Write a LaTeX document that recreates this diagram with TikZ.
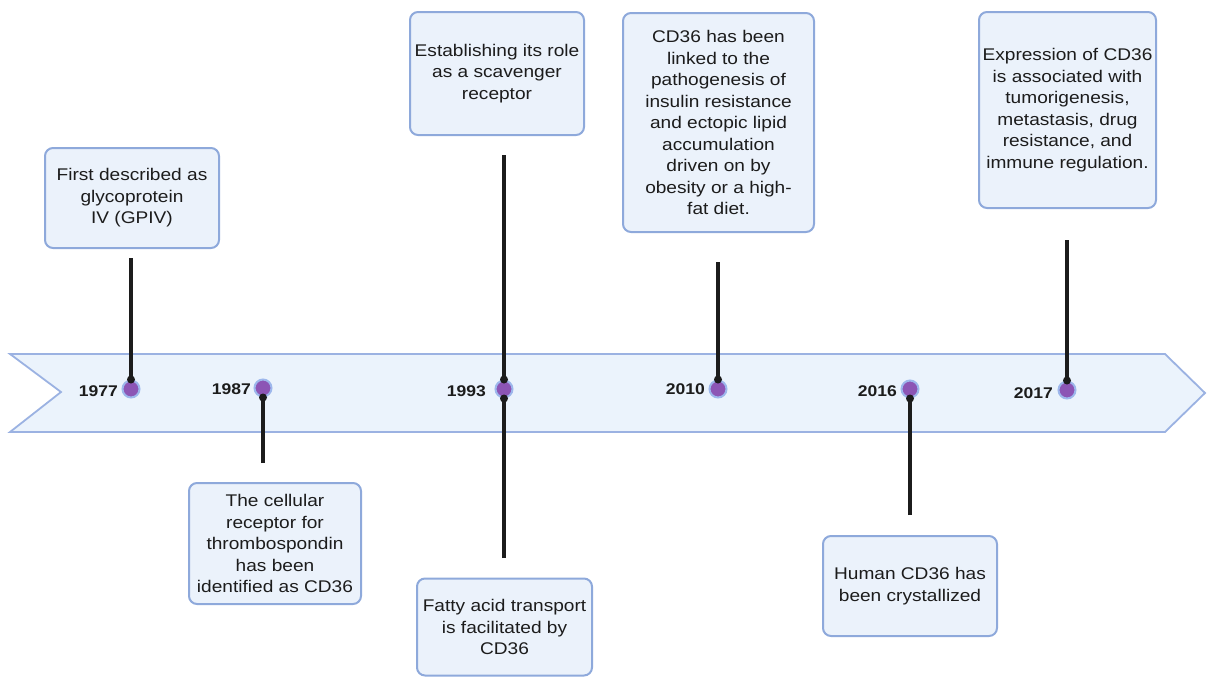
\documentclass[tikz,border=0pt]{standalone}
\usepackage{fontspec}
\setmainfont{Liberation Sans}[FakeStretch=1.13]
\definecolor{boxfill}{HTML}{EBF2FB}
\definecolor{boxdraw}{HTML}{8EA9DB}
\definecolor{ribfill}{HTML}{EBF3FC}
\definecolor{ribdraw}{HTML}{9BB2E2}
\definecolor{dotfill}{HTML}{8C55B5}
\definecolor{dotdraw}{HTML}{9DB7EC}
\definecolor{txt}{HTML}{1C1C1C}
\tikzset{
  evbox/.style={draw=boxdraw, fill=boxfill, line width=2pt, rounded corners=8pt,
    align=center, inner sep=0pt, text=txt,
    font=\fontsize{16.9}{21.5}\selectfont},
  yeardot/.style={circle, fill=dotfill, draw=dotdraw, line width=2pt,
    minimum size=17pt, inner sep=0pt},
  yearlbl/.style={anchor=east, inner sep=0pt, text=txt,
    font=\fontsize{15.5}{15.5}\selectfont\bfseries},
  conn/.style={line width=3.1pt, draw=txt},
}
\begin{document}
\begin{tikzpicture}[x=1pt,y=-1pt]
\useasboundingbox (0,0) rectangle (1207,678);
% ribbon
\draw[fill=ribfill, draw=ribdraw, line width=1.8pt, line join=miter]
  (10,354) -- (1165,354) -- (1205,393) -- (1165,432) -- (10,432) -- (61,392) -- cycle;
% dots
\node[yeardot] (c1977) at (131,389) {};
\node[yeardot] (c1987) at (263,388) {};
\node[yeardot] (c1993) at (504,389) {};
\node[yeardot] (c2010) at (718,389) {};
\node[yeardot] (c2016) at (910,389) {};
\node[yeardot] (c2017) at (1067,390) {};
% year labels
\node[yearlbl] (y1977) at (118,391) {1977};
\node[yearlbl] (y1987) at (251,389) {1987};
\node[yearlbl] (y1993) at (486,391) {1993};
\node[yearlbl] (y2010) at (705,389) {2010};
\node[yearlbl] (y2016) at (897,391) {2016};
\node[yearlbl] (y2017) at (1053,393) {2017};
% boxes
\node[evbox, minimum width=174pt, minimum height=100pt] (b1) at (132,198)
  {First described as\\glycoprotein\\IV (GPIV)};
\node[evbox, minimum width=172pt, minimum height=121pt] (b2) at (275,543.5)
  {The cellular\\receptor for\\thrombospondin\\has been\\identified as CD36};
\node[evbox, minimum width=174pt, minimum height=123pt] (b3) at (497,73.5)
  {Establishing its role\\as a scavenger\\receptor};
\node[evbox, minimum width=175pt, minimum height=97pt] (b4) at (504.5,627)
  {Fatty acid transport\\is facilitated by\\CD36};
\node[evbox, minimum width=191pt, minimum height=219pt] (b5) at (718.5,122.5)
  {CD36 has been\\linked to the\\pathogenesis of\\insulin resistance\\and ectopic lipid\\accumulation\\driven on by\\obesity or a high-\\fat diet.};
\node[evbox, minimum width=174pt, minimum height=100pt] (b6) at (910,586)
  {Human CD36 has\\been crystallized};
\node[evbox, minimum width=177pt, minimum height=196pt] (b7) at (1067.5,110)
  {Expression of CD36\\is associated with\\tumorigenesis,\\metastasis, drug\\resistance, and\\immune regulation.};
% connector free ends
\coordinate (t1977) at (131,258);
\coordinate (t1987) at (263,463);
\coordinate (t1993u) at (504,155);
\coordinate (t1993d) at (504,558);
\coordinate (t2010) at (718,262);
\coordinate (t2016) at (910,515);
\coordinate (t2017) at (1067,240);
% connectors
\draw[conn] (t1977) -- (c1977.north);
\draw[conn] (t1987) -- (c1987.south);
\draw[conn] (t1993u) -- (c1993.north);
\draw[conn] (t1993d) -- (c1993.south);
\draw[conn] (t2010) -- (c2010.north);
\draw[conn] (t2016) -- (c2016.south);
\draw[conn] (t2017) -- (c2017.north);
\fill[txt] (c1977.north) circle (4pt);
\fill[txt] (c1987.south) circle (4pt);
\fill[txt] (c1993.north) circle (4pt);
\fill[txt] (c1993.south) circle (4pt);
\fill[txt] (c2010.north) circle (4pt);
\fill[txt] (c2016.south) circle (4pt);
\fill[txt] (c2017.north) circle (4pt);
\end{tikzpicture}
\end{document}
